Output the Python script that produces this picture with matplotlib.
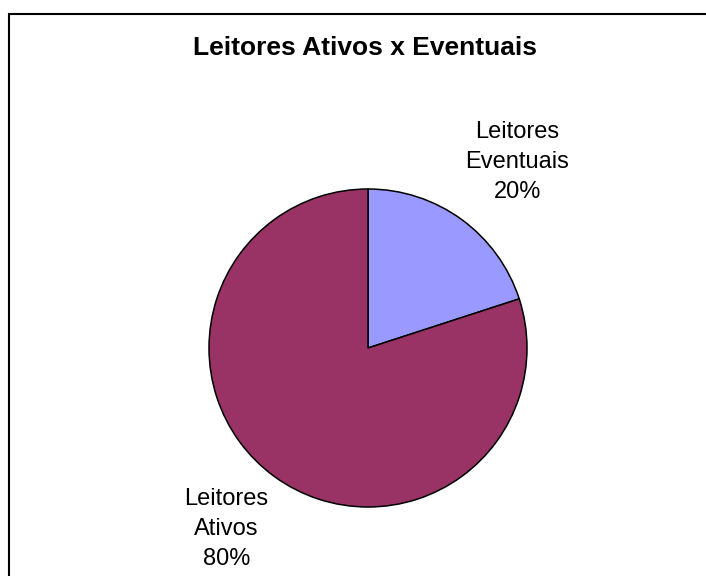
import matplotlib
matplotlib.use('Agg')
import matplotlib.pyplot as plt
from matplotlib.patches import Rectangle

TITLE = 'Leitores Ativos x Eventuais'
CATEGORIES = ['Leitores\nEventuais', 'Leitores\nAtivos']
VALUES = [20, 80]
COLORS = ['#9999FF', '#993366']

W, H = 706, 576


def main():
    plt.rcParams['font.family'] = ['Liberation Sans', 'DejaVu Sans']
    fig = plt.figure(figsize=(W / 100, H / 100), dpi=100)

    # chart area frame (only top and left edges visible in the crop)
    fig.patches.append(Rectangle((9 / W, -0.1), 1.2, (H - 14) / H + 0.1,
                                 transform=fig.transFigure, fill=False,
                                 edgecolor='black', linewidth=1.5, clip_on=False))

    fig.text(365 / W, (H - 55) / H, TITLE, ha='center', va='baseline',
             fontsize=19, fontweight='bold')

    r, cx, cy = 159, 368, H - 348
    ax = fig.add_axes([(cx - r) / W, (cy - r) / H, 2 * r / W, 2 * r / H])
    ax.pie(VALUES, colors=COLORS, startangle=90, counterclock=False,
           wedgeprops={'edgecolor': 'black', 'linewidth': 1.1})
    ax.set_xlim(-1, 1)
    ax.set_ylim(-1, 1)
    ax.set_aspect('equal')
    ax.axis('off')

    label_pos = [(0.94, 1.17), (-0.89, -1.14)]
    for cat, val, (x, y) in zip(CATEGORIES, VALUES, label_pos):
        ax.text(x, y, f'{cat}\n{val}%', ha='center', va='center',
                fontsize=17, linespacing=1.47, clip_on=False)

    fig.savefig('out.png', dpi=100)
    plt.close(fig)


if __name__ == '__main__':
    main()
